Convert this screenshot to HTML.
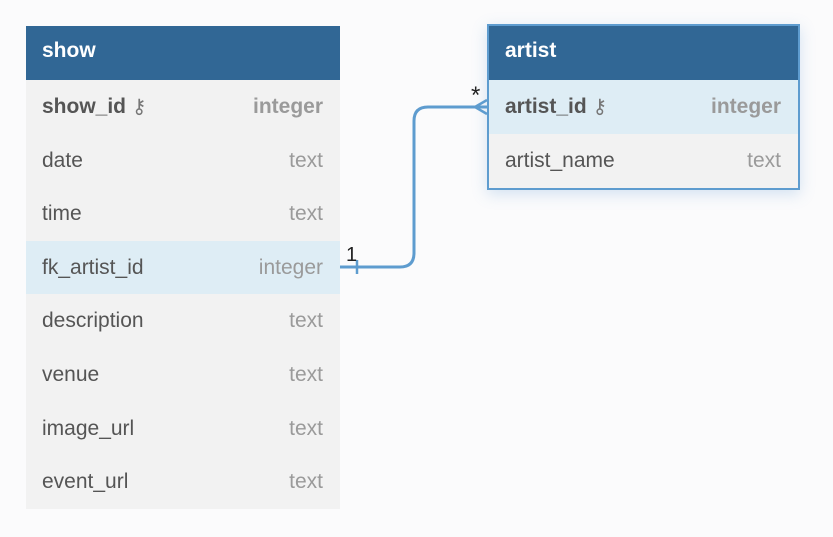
<!DOCTYPE html>
<html><head><style>
body{margin:0;width:833px;height:537px;background:#fbfbfc;font-family:"Liberation Sans",sans-serif;position:relative;overflow:hidden}
.t{position:absolute;background:#f2f2f2}
.h{background:#316795;color:#fff;font-weight:bold;font-size:21px;height:54px;line-height:50px;padding-left:16px;box-sizing:border-box}
.r{height:53.6px;line-height:53px;font-size:21px;color:#555;padding:0 16px;position:relative;box-sizing:border-box}
.r span{position:absolute;right:17px;color:#9a9a9a}
.b{font-weight:bold}
.hl{background:#deedf5}
.k{font-weight:normal;font-size:20px;color:#777}
</style></head><body>
<div class="t" style="left:26px;top:26px;width:314px;height:483px">
<div class="h">show</div>
<div class="r b">show_id <span class="k" style="position:static;color:#777">⚷</span><span class="b">integer</span></div>
<div class="r">date<span>text</span></div>
<div class="r">time<span>text</span></div>
<div class="r hl">fk_artist_id<span>integer</span></div>
<div class="r">description<span>text</span></div>
<div class="r">venue<span>text</span></div>
<div class="r">image_url<span>text</span></div>
<div class="r">event_url<span>text</span></div>
</div>
<div class="t" style="left:487px;top:24px;width:313px;height:166px;border:2px solid #5e9ccf;box-sizing:border-box;box-shadow:0 4px 14px rgba(90,150,210,.25)">
<div class="h" style="height:54px">artist</div>
<div class="r b hl">artist_id <span class="k" style="position:static;color:#777">⚷</span><span class="b">integer</span></div>
<div class="r">artist_name<span>text</span></div>
</div>
<svg style="position:absolute;left:0;top:0" width="833" height="537">
<path d="M340 267 H400 Q414 267 414 253 V121 Q414 107 428 107 H487" fill="none" stroke="#5e9ccf" stroke-width="3"/>
<path d="M357 260 V274" stroke="#5e9ccf" stroke-width="2.5"/>
<path d="M475 107 L487 100 M475 107 L487 114" stroke="#5e9ccf" stroke-width="2.5"/>
<text x="346" y="261" font-size="20" font-family="Liberation Sans" fill="#222">1</text>
<text x="471" y="103" font-size="24" font-family="Liberation Sans" fill="#222">*</text>
</svg>
</body></html>
